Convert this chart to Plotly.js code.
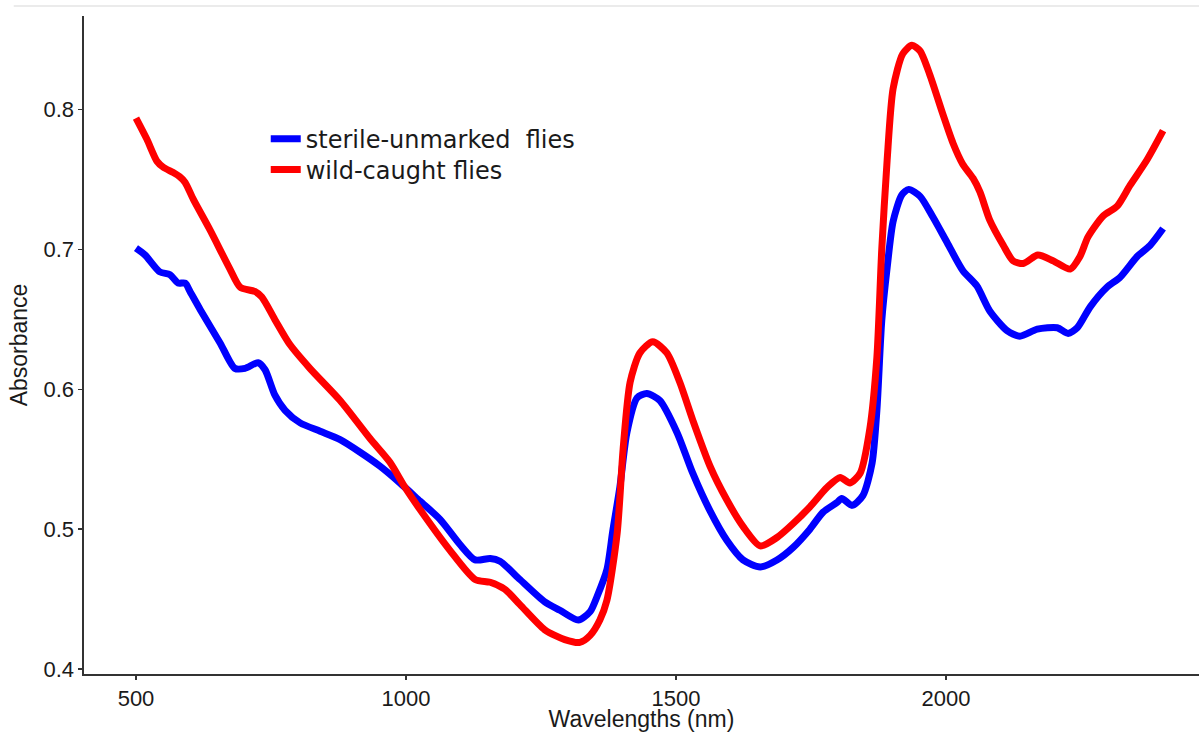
<!DOCTYPE html>
<html>
<head>
<meta charset="utf-8">
<script src="https://cdn.plot.ly/plotly-3.0.1.min.js"></script>
<style>
  html, body { margin: 0; padding: 0; background: #ffffff; }
  #chart { width: 1199px; height: 732px; }
</style>
</head>
<body>
<div id="chart"></div>
<script>
// Sterile-unmarked flies (blue)
const sterileWavelength = [500,517,544,563,578,591,600,619,656,683,702,726,739,757,776,804,841,878,915,952,989,1026,1063,1100,1128,1156,1174,1211,1257,1285,1319,1341,1354,1372,1383,1396,1409,1428,1446,1470,1502,1531,1563,1594,1624,1656,1687,1717,1748,1772,1798,1807,1826,1846,1863,1872,1881,1891,1902,1918,1931,1952,1976,2002,2031,2057,2081,2113,2137,2169,2206,2226,2243,2267,2298,2322,2354,2378,2402];
const sterileAbsorbance = [0.701,0.696,0.684,0.682,0.676,0.676,0.670,0.657,0.633,0.615,0.615,0.619,0.614,0.596,0.585,0.576,0.570,0.564,0.555,0.545,0.533,0.520,0.507,0.489,0.478,0.479,0.477,0.464,0.448,0.442,0.435,0.441,0.452,0.471,0.499,0.530,0.569,0.594,0.597,0.592,0.569,0.540,0.513,0.492,0.478,0.473,0.478,0.487,0.500,0.512,0.519,0.522,0.517,0.524,0.547,0.585,0.649,0.687,0.720,0.739,0.743,0.738,0.723,0.705,0.685,0.674,0.656,0.642,0.638,0.643,0.644,0.640,0.644,0.659,0.673,0.680,0.695,0.703,0.715];

// Wild-caught flies (red)
const wildWavelength = [500,520,539,550,569,581,591,606,637,674,693,720,733,757,785,822,878,933,970,998,1026,1081,1128,1156,1183,1211,1257,1294,1322,1341,1359,1372,1391,1402,1415,1433,1457,1483,1507,1531,1563,1594,1624,1656,1687,1717,1748,1780,1804,1822,1841,1859,1872,1881,1891,1902,1920,1937,1952,1970,1994,2013,2031,2050,2063,2081,2106,2124,2143,2170,2198,2230,2248,2263,2291,2317,2341,2372,2402];
const wildAbsorbance = [0.794,0.779,0.763,0.759,0.755,0.752,0.748,0.736,0.714,0.686,0.673,0.670,0.666,0.650,0.632,0.615,0.592,0.565,0.548,0.530,0.514,0.485,0.464,0.462,0.457,0.446,0.428,0.421,0.419,0.424,0.435,0.449,0.497,0.557,0.605,0.626,0.634,0.626,0.605,0.578,0.545,0.521,0.502,0.488,0.494,0.504,0.516,0.530,0.537,0.533,0.540,0.572,0.623,0.700,0.764,0.815,0.840,0.846,0.842,0.825,0.797,0.776,0.761,0.751,0.741,0.721,0.703,0.692,0.690,0.696,0.692,0.686,0.695,0.709,0.724,0.731,0.746,0.764,0.785];

const seriesNames = ["sterile-unmarked  flies", "wild-caught flies"];
const xTicks = [500, 1000, 1500, 2000];
const yTicks = [0.4, 0.5, 0.6, 0.7, 0.8];

const traces = [
  {
    x: sterileWavelength, y: sterileAbsorbance, name: seriesNames[0],
    type: "scatter", mode: "lines", legend: "legend",
    line: { color: "#0000ff", width: 7, shape: "spline", smoothing: 0.7 }
  },
  {
    x: wildWavelength, y: wildAbsorbance, name: seriesNames[1],
    type: "scatter", mode: "lines", legend: "legend2",
    line: { color: "#ff0000", width: 7, shape: "spline", smoothing: 0.7 }
  }
];

const tickFont = { family: "Liberation Sans, Arial, sans-serif", size: 22, color: "#1a1a1a" };
const legendFont = { family: "DejaVu Sans, sans-serif", size: 24, color: "#1a1a1a" };

const layout = {
  width: 1199, height: 732,
  margin: { l: 84, r: 0, t: 16, b: 58, pad: 0 },
  paper_bgcolor: "#ffffff", plot_bgcolor: "#ffffff",
  showlegend: true,
  legend: {
    x: 0.163, y: 0.813, xanchor: "left", yanchor: "middle",
    bgcolor: "rgba(0,0,0,0)", font: legendFont, itemwidth: 30
  },
  legend2: {
    x: 0.163, y: 0.766, xanchor: "left", yanchor: "middle",
    bgcolor: "rgba(0,0,0,0)", font: legendFont, itemwidth: 30
  },
  xaxis: {
    range: [403.7, 2468.5],
    tickvals: xTicks, ticktext: xTicks.map(String),
    showgrid: false, zeroline: false,
    showline: true, linecolor: "#333333", linewidth: 1.6,
    ticks: "outside", ticklen: 4, tickcolor: "#333333", tickwidth: 1.4,
    tickfont: tickFont,
    title: { text: "Wavelengths (nm)", font: { family: "Liberation Sans, Arial, sans-serif", size: 23, color: "#1a1a1a" } },
    automargin: false
  },
  yaxis: {
    range: [0.3964, 0.867],
    tickvals: yTicks, ticktext: yTicks.map(v => v.toFixed(1)),
    showgrid: false, zeroline: false,
    showline: true, linecolor: "#333333", linewidth: 1.6,
    ticks: "outside", ticklen: 4, tickcolor: "#333333", tickwidth: 1.4,
    tickfont: tickFont,
    title: { text: "Absorbance", font: { family: "Liberation Sans, Arial, sans-serif", size: 23, color: "#1a1a1a" } },
    automargin: false
  },
  shapes: [
    { type: "line", xref: "paper", yref: "paper", x0: -0.063, x1: 1.0, y0: 1.0152, y1: 1.0152,
      line: { color: "#ebebeb", width: 2 } }
  ]
};

Plotly.newPlot("chart", traces, layout, { staticPlot: true, displayModeBar: false });
</script>
</body>
</html>
